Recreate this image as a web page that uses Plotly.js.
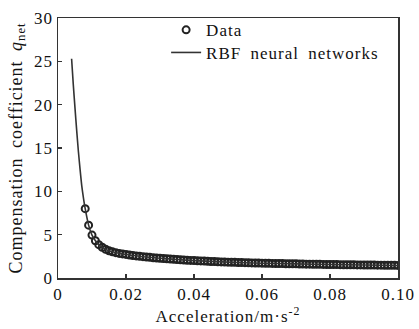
<!DOCTYPE html>
<html>
<head>
<meta charset="utf-8">
<script src="https://cdn.plot.ly/plotly-3.0.1.min.js"></script>
<style>html,body{margin:0;padding:0;background:#fff;}#chart{width:419px;height:329px;}
svg text{letter-spacing:1px;word-spacing:4px;}</style>
</head>
<body>
<div id="chart"></div>
<script>
// Data points (open circles)
var dataX = [0.008,0.009,0.010,0.011,0.012,0.013,0.014,0.015,0.016,0.017,0.018,0.019,0.020,
  0.021,0.022,0.023,0.024,0.025,0.026,0.027,0.028,0.029,0.030,0.031,0.032,0.033,0.034,0.035,
  0.036,0.037,0.038,0.039,0.040,0.041,0.042,0.043,0.044,0.045,0.046,0.047,0.048,0.049,0.050,
  0.051,0.052,0.053,0.054,0.055,0.056,0.057,0.058,0.059,0.060,0.061,0.062,0.063,0.064,0.065,
  0.066,0.067,0.068,0.069,0.070,0.071,0.072,0.073,0.074,0.075,0.076,0.077,0.078,0.079,0.080,
  0.081,0.082,0.083,0.084,0.085,0.086,0.087,0.088,0.089,0.090,0.091,0.092,0.093,0.094,0.095,
  0.096,0.097,0.098,0.099,0.100];
var dataY = [8.0,6.1,4.95,4.3,3.85,3.55,3.32,3.15,3.02,2.92,2.84,2.78,2.72,
  2.66,2.60,2.55,2.50,2.46,2.42,2.38,2.34,2.31,2.28,2.25,2.22,2.19,2.16,2.13,
  2.10,2.08,2.05,2.03,2.01,1.99,1.97,1.95,1.93,1.91,1.89,1.88,1.86,1.85,1.83,
  1.82,1.81,1.79,1.78,1.77,1.76,1.74,1.73,1.72,1.71,1.70,1.69,1.68,1.67,1.67,
  1.66,1.65,1.64,1.63,1.63,1.62,1.61,1.60,1.60,1.59,1.58,1.58,1.57,1.56,1.56,
  1.55,1.55,1.54,1.53,1.53,1.52,1.52,1.51,1.51,1.50,1.50,1.49,1.49,1.48,1.48,
  1.47,1.47,1.46,1.46,1.45];
// RBF neural network fit (line)
var rbfX = [0.004,0.0045,0.005,0.0055,0.006,0.0065,0.007,0.0075,0.008,0.009,0.010,0.011,0.012,
  0.013,0.014,0.015,0.016,0.018,0.020,0.025,0.030,0.035,0.040,0.050,0.060,0.070,0.080,0.090,0.100];
var rbfY = [25.3,22.3,19.6,17.0,14.6,12.5,10.6,9.2,8.0,6.1,4.95,4.3,3.85,
  3.55,3.32,3.15,3.02,2.84,2.72,2.46,2.28,2.13,2.01,1.83,1.71,1.63,1.56,1.50,1.45];
var xTicks = [0,0.02,0.04,0.06,0.08,0.10];
var xTickText = ['0','0.02','0.04','0.06','0.08','0.10'];
var yTicks = [0,5,10,15,20,25,30];

var serif = 'Liberation Serif';
var traces = [
  {x: dataX, y: dataY, name: 'Data', mode: 'markers', type: 'scatter', legend: 'legend',
   marker: {symbol: 'circle-open', size: 7, color: '#222', line: {width: 2, color: '#222'}}},
  {x: rbfX, y: rbfY, name: 'RBF neural networks', mode: 'lines', type: 'scatter', legend: 'legend2',
   line: {color: '#333', width: 1.6, shape: 'spline', smoothing: 0.6}}
];
var axisCommon = {
  showgrid: false, zeroline: false, showline: true, mirror: true,
  linecolor: '#333', linewidth: 1.5, ticks: 'inside', ticklen: 4, tickcolor: '#333', tickwidth: 1.2,
  tickfont: {family: serif, size: 17, color: '#111'}
};
var legFont = {family: serif, size: 17, color: '#111'};
var layout = {
  width: 419, height: 329,
  margin: {l: 58, r: 21, t: 13, b: 51},
  paper_bgcolor: '#fff', plot_bgcolor: '#fff',
  showlegend: true,
  legend: {x: 0.318, y: 1.022, xanchor: 'left', yanchor: 'top', bgcolor: 'rgba(0,0,0,0)', font: legFont},
  legend2: {x: 0.318, y: 0.935, xanchor: 'left', yanchor: 'top', bgcolor: 'rgba(0,0,0,0)', font: legFont},
  xaxis: Object.assign({}, axisCommon, {
    range: [0, 0.1], tickvals: xTicks, ticktext: xTickText,
    title: {text: 'Acceleration/m·s<sup>-2</sup>', font: {family: serif, size: 17, color: '#111'}, standoff: 4}
  }),
  yaxis: Object.assign({}, axisCommon, {
    range: [0, 30], tickvals: yTicks,
    title: {text: 'Compensation coefficient <i>q</i><sub>net</sub>', font: {family: serif, size: 18, color: '#111'}, standoff: 7}
  })
};
Plotly.newPlot('chart', traces, layout, {displayModeBar: false, staticPlot: true});
</script>
</body>
</html>
